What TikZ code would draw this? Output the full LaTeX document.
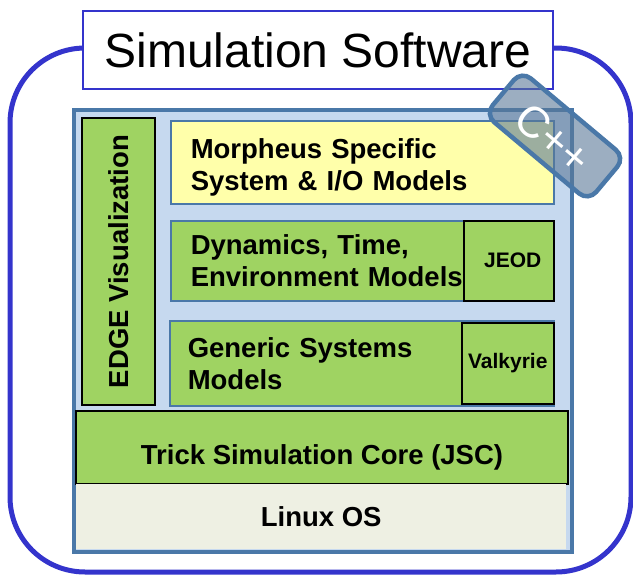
\documentclass[tikz,border=0pt]{standalone}
\usepackage{fontspec}
\setmainfont{Liberation Sans}

\definecolor{frameblue}{HTML}{3434CC}
\definecolor{steel}{HTML}{4A78A8}
\definecolor{paleblue}{HTML}{C6D9EF}
\definecolor{leaf}{HTML}{9FD362}
\definecolor{lemon}{HTML}{FFFFAA}
\definecolor{osgrey}{HTML}{EEF0E3}
\definecolor{tagblue}{HTML}{5A7898}

\begin{document}
\begin{tikzpicture}[x=1pt, y=-1pt,
  layer/.style={inner sep=0pt, anchor=north west, fill=leaf,
    font=\bfseries\fontsize{27.5}{32}\selectfont},
  module/.style={layer, draw=steel, line width=1.5pt, align=left},
  plugin/.style={layer, draw=black, line width=1.5pt,
    font=\bfseries\fontsize{21}{25}\selectfont}]
  \useasboundingbox (0,0) rectangle (633,576);

  \draw[frameblue, line width=5pt, rounded corners=75pt] (10,48) rectangle (631,572);
  \node[draw=frameblue, fill=white, line width=2pt, anchor=north west, inner sep=0pt,
    minimum width=470pt, minimum height=78pt, font=\fontsize{48}{56}\selectfont]
    (title) at (82,10) {Simulation Software};

  \node[draw=steel, fill=paleblue, line width=4pt, anchor=north west,
    minimum width=498pt, minimum height=442pt] (stack) at (72,108) {};

  \node[layer, draw=black, line width=1.5pt, anchor=center, rotate=90,
    minimum width=287pt, minimum height=73pt] (edge) at (118.5,261.5) {EDGE Visualization};

  \node[module, fill=lemon, minimum width=383pt, minimum height=83pt, text width=343pt]
    (morpheus) at (170,120) {\rule{0pt}{31pt}Morpheus Specific\\System \& I/O Models};
  \node[module, minimum width=383pt, minimum height=80pt, text width=343pt]
    (dynamics) at (170,220) {Dynamics, Time,\\Environment Models};
  \node[plugin, minimum width=90pt, minimum height=80pt] (jeod) at (463,220) {\hspace*{8pt}JEOD};
  \node[module, minimum width=384pt, minimum height=85pt, text width=348pt]
    (generic) at (169,320) {Generic Systems\\Models};
  \node[plugin, minimum width=92pt, minimum height=81pt] (valkyrie) at (461,322) {Valkyrie};

  \node[layer, draw=black, line width=2pt, minimum width=492pt, minimum height=73pt,
    text height=33pt, text depth=0pt] (trick) at (75,410) {Trick Simulation Core (JSC)};
  \node[layer, fill=osgrey, minimum width=490pt, minimum height=65pt]
    (linux) at (76,484) {Linux OS};

  \node[draw=steel, line width=4.5pt, fill=tagblue, fill opacity=0.6, text opacity=1,
    text=white, rounded corners=12pt, rotate=-40, minimum width=135pt, minimum height=57pt,
    text height=37pt, text depth=0pt, inner sep=0pt,
    font=\fontsize{44}{50}\selectfont] (cpp) at (555,136) {C++};
\end{tikzpicture}
\end{document}
